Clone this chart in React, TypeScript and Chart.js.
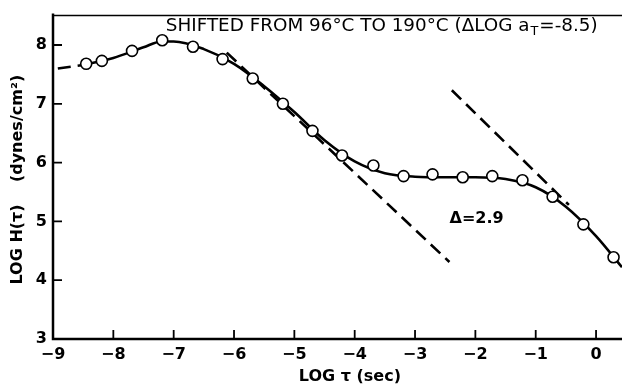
import React, { useEffect, useRef } from "react";
import { Chart, registerables } from "chart.js";

Chart.register(...registerables);

const pointX = [-8.45, -8.19, -7.69, -7.19, -6.68, -6.19, -5.69, -5.19, -4.7, -4.21, -3.69, -3.19, -2.71, -2.21, -1.72, -1.22, -0.72, -0.21, 0.29];
const pointY = [7.68, 7.73, 7.9, 8.08, 7.97, 7.76, 7.43, 7.0, 6.54, 6.12, 5.95, 5.77, 5.8, 5.75, 5.77, 5.7, 5.42, 4.95, 4.39];

const curveX = [-8.5, -8.0, -7.5, -7.2, -7.0, -6.5, -6.0, -5.5, -5.0, -4.5, -4.0, -3.5, -3.0, -2.5, -2.0, -1.5, -1.0, -0.5, 0.0, 0.43];
const curveY = [7.66, 7.78, 7.96, 8.06, 8.06, 7.93, 7.68, 7.3, 6.86, 6.38, 6.02, 5.82, 5.76, 5.75, 5.75, 5.72, 5.58, 5.25, 4.75, 4.22];

const leftDashX = [-8.92, -8.5];
const leftDashY = [7.6, 7.66];
const slopeAX = [-6.12, -2.43];
const slopeAY = [7.87, 4.31];
const slopeBX = [-2.39, -0.45];
const slopeBY = [7.23, 5.28];

const xTicks = [-9, -8, -7, -6, -5, -4, -3, -2, -1, 0];
const yTicks = [3, 4, 5, 6, 7, 8];

const titleText = "SHIFTED FROM 96°C TO 190°C (ΔLOG a";
const titleSub = "T";
const titleEnd = "=-8.5)";
const deltaText = "Δ=2.9";
const xTitle = "LOG τ (sec)";
const yTitleA = "LOG H(τ)";
const yTitleB = "(dynes/cm²)";

const FONT = "'DejaVu Sans', sans-serif";

const zip = (xs: number[], ys: number[]) => xs.map((x, i) => ({ x, y: ys[i] }));

const decorPlugin = {
  id: "decor",
  afterDraw(chart: any) {
    const { ctx, chartArea, scales } = chart;
    const xs = scales.x;
    const ys = scales.y;
    ctx.save();
    ctx.strokeStyle = "#000";
    ctx.lineWidth = 2.5;
    ctx.beginPath();
    ctx.moveTo(chartArea.left, chartArea.top - 2);
    ctx.lineTo(chartArea.left, chartArea.bottom);
    ctx.lineTo(chartArea.right, chartArea.bottom);
    ctx.stroke();
    ctx.lineWidth = 1.5;
    ctx.beginPath();
    ctx.moveTo(chartArea.left, chartArea.top);
    ctx.lineTo(chartArea.right, chartArea.top);
    ctx.stroke();
    ctx.lineWidth = 1.8;
    ctx.beginPath();
    xTicks.forEach((v) => {
      const px = xs.getPixelForValue(v);
      ctx.moveTo(px, chartArea.bottom);
      ctx.lineTo(px, chartArea.bottom - 9);
    });
    yTicks.forEach((v) => {
      const py = ys.getPixelForValue(v);
      ctx.moveTo(chartArea.left, py);
      ctx.lineTo(chartArea.left + 9, py);
    });
    ctx.stroke();

    ctx.fillStyle = "#000";
    ctx.textBaseline = "middle";
    ctx.textAlign = "left";
    const tx = xs.getPixelForValue(-7.13);
    const tEnd = xs.getPixelForValue(0.05);
    const ty = ys.getPixelForValue(8.32);
    ctx.font = `15px ${FONT}`;
    const raw = ctx.measureText(titleText + titleEnd).width + 9;
    const fs = (15 * (tEnd - tx)) / raw;
    ctx.font = `${fs}px ${FONT}`;
    ctx.fillText(titleText, tx, ty);
    const w1 = ctx.measureText(titleText).width;
    ctx.font = `${fs * 0.7}px ${FONT}`;
    ctx.fillText(titleSub, tx + w1 + 1, ty + 5);
    const w2 = ctx.measureText(titleSub).width;
    ctx.font = `${fs}px ${FONT}`;
    ctx.fillText(titleEnd, tx + w1 + w2 + 2, ty);

    ctx.textAlign = "center";
    ctx.font = `bold 16px ${FONT}`;
    ctx.fillText(deltaText, xs.getPixelForValue(-1.98), ys.getPixelForValue(5.05));

    ctx.font = `bold 16px ${FONT}`;
    ctx.fillText(xTitle, xs.getPixelForValue(-4.08), 377);

    ctx.translate(18, ys.getPixelForValue(5.71));
    ctx.rotate(-Math.PI / 2);
    ctx.font = `bold 16px ${FONT}`;
    const full = yTitleA + "    " + yTitleB;
    ctx.fillText(full, 0, 0);
    ctx.restore();
  },
};

export default function App() {
  const ref = useRef<HTMLCanvasElement>(null);
  useEffect(() => {
    document.body.style.margin = "0";
    const dashStyle = {
      showLine: true,
      pointRadius: 0,
      borderColor: "#000",
      borderWidth: 2.6,
      borderDash: [13, 7],
      fill: false,
    };
    const tickFont = { family: FONT, size: 16, weight: "bold" };
    const fmt = (v: any) => String(v).replace("-", "−");
    const chart = new Chart(ref.current as HTMLCanvasElement, {
      type: "scatter",
      data: {
        datasets: [
          {
            data: zip(curveX, curveY),
            showLine: true,
            pointRadius: 0,
            borderColor: "#000",
            borderWidth: 2.6,
            cubicInterpolationMode: "monotone",
            order: 2,
          } as any,
          { data: zip(leftDashX, leftDashY), ...dashStyle, order: 3 } as any,
          { data: zip(slopeAX, slopeAY), ...dashStyle, order: 3 } as any,
          { data: zip(slopeBX, slopeBY), ...dashStyle, order: 3 } as any,
          {
            data: zip(pointX, pointY),
            showLine: false,
            pointRadius: 5.5,
            pointBackgroundColor: "#fff",
            pointBorderColor: "#000",
            pointBorderWidth: 1.6,
            order: 1,
          } as any,
        ],
      },
      options: {
        animation: false,
        responsive: false,
        layout: { autoPadding: false, padding: { top: 11, right: 0, left: 0, bottom: 0 } },
        plugins: { legend: { display: false }, tooltip: { enabled: false } },
        scales: {
          x: {
            type: "linear",
            min: -9,
            max: 0.43,
            afterBuildTicks: (s: any) => {
              s.ticks = xTicks.map((v) => ({ value: v }));
            },
            afterFit: (s: any) => {
              s.height = 48;
            },
            grid: { display: false, drawTicks: false },
            border: { display: false },
            ticks: { color: "#000", font: tickFont, padding: 6, maxRotation: 0, callback: fmt },
          },
          y: {
            type: "linear",
            min: 3,
            max: 8.5,
            afterBuildTicks: (s: any) => {
              s.ticks = yTicks.map((v) => ({ value: v }));
            },
            afterFit: (s: any) => {
              s.width = 53;
            },
            grid: { display: false, drawTicks: false },
            border: { display: false },
            ticks: { color: "#000", font: tickFont, padding: 6, callback: fmt },
          },
        },
      } as any,
      plugins: [decorPlugin],
    });
    return () => chart.destroy();
  }, []);
  return <canvas ref={ref} width={622} height={387} style={{ display: "block" }} />;
}
